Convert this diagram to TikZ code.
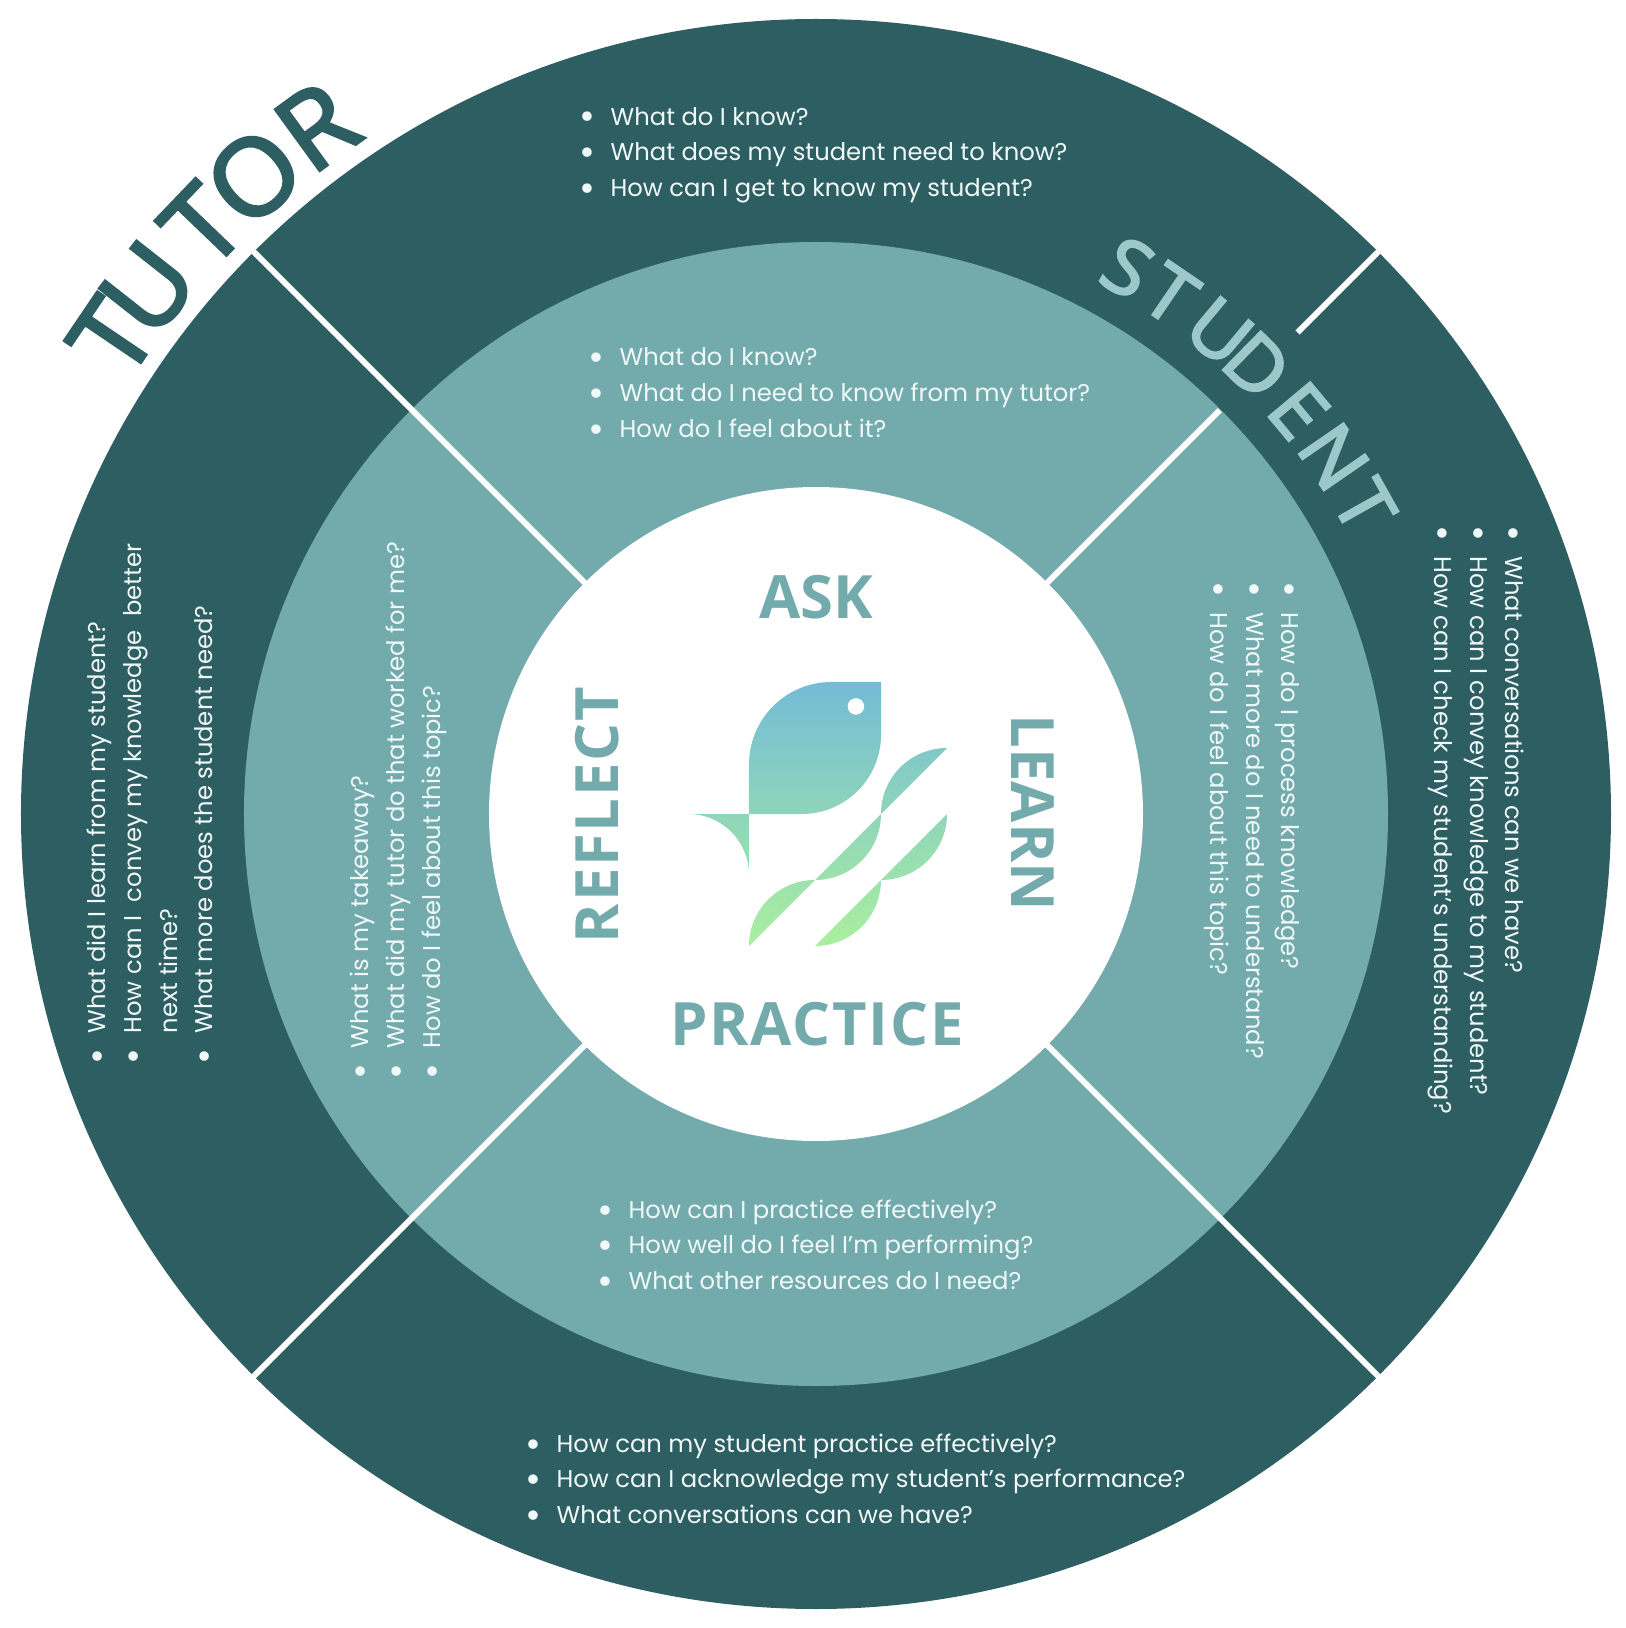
\documentclass[tikz,border=0pt]{standalone}
\usepackage{fontspec}
\setmainfont{Poppins}
\newfontfamily\headfont{Open Sans}
\newfontfamily\rimfont[FakeBold=3,FakeStretch=1.04]{Open Sans}
\usepackage{tikz}
\usetikzlibrary{positioning}
\definecolor{ringdark}{HTML}{2D5E62}
\definecolor{ringmid}{HTML}{73ABAD}
\definecolor{labelpale}{HTML}{9CC8CA}
\definecolor{fishtop}{HTML}{74BBD6}
\definecolor{fishmid}{HTML}{88D2BE}
\definecolor{fishlow}{HTML}{AAEF9E}
\definecolor{listwhite}{HTML}{F0F8F8}
\newcommand{\qline}[1]{\makebox[0.29cm][l]{\hspace*{-0.02cm}\raisebox{-1.4pt}{\fontsize{11}{11}\selectfont\textbullet}}#1}
\tikzset{
  questions/.style={text=listwhite, align=left, anchor=west, inner sep=0pt,
    font=\fontsize{6.9}{10.15}\selectfont},
  divider/.style={white, line width=1.7pt},
  stage/.style={text=ringmid, inner sep=0pt, font=\headfont\bfseries\fontsize{17}{17}\selectfont}
}

\begin{document}
\begin{tikzpicture}
  \useasboundingbox (-8.16,-8.14) rectangle (8.10,8.14);
  \fill[ringdark] (0,0) circle (7.95);
  \fill[ringmid] (0,0) circle (5.72);
  \fill[white] (0,0) circle (3.27);
  % dividers
  \foreach \a in {135,225,315} \draw[divider] (\a:3.27) -- (\a:7.98);
  \draw[divider] (45:3.27) -- (45:5.71);
  \draw[divider] (45:6.81) -- (45:7.98);
  % big words on the rim
  \foreach \c/\a in {T/145.9,U/141.8,T/136.2,O/131.4,R/126.0}
    \node[text=ringdark, inner sep=0pt, rotate=\a-90, font=\rimfont\fontsize{30}{30}\selectfont] (tutor\a) at (\a:8.50) {\c};
  \foreach \c/\a in {S/60.3,T/55.7,U/50.1,D/45.5,E/39.9,N/34.6,T/29.3}
    \node[text=labelpale, inner sep=0pt, rotate=\a-90, font=\rimfont\fontsize{21.5}{21.5}\selectfont] (student\a) at (\a:6.29) {\c};
  % stage words
  \node[stage] (ask) at (0,2.17) {ASK};
  \node[stage] (practice) at (0.01,-2.10) {\addfontfeature{LetterSpace=3}PRACTICE};
  \node[stage, rotate=-90] (learn) at (2.17,0.01) {LEARN};
  \node[stage, rotate=90] (reflect) at (-2.19,-0.01) {\addfontfeature{LetterSpace=3}REFLECT};
  % question lists
  \node[questions] (tutorask) at (-2.35,6.59)
    {\qline{What do I know?}\\\qline{What does my student need to know?}\\\qline{How can I get to know my student?}};
  \node[questions] (studentask) at (-2.26,4.19)
    {\qline{What do I know?}\\\qline{What do I need to know from my tutor?}\\\qline{How do I feel about it?}};
  \node[questions] (studentpractice) at (-2.17,-4.33)
    {\qline{How can I practice effectively?}\\\qline{How well do I feel I'm performing?}\\\qline{What other resources do I need?}};
  \node[questions] (tutorpractice) at (-2.89,-6.67)
    {\qline{How can my student practice effectively?}\\\qline{How can I acknowledge my student's performance?}\\\qline{What conversations can we have?}};
  \node[questions, rotate=-90] (tutorlearn) at (6.60,2.87)
    {\qline{What conversations can we have?}\\\qline{How can I convey knowledge to my student?}\\\qline{How can I check my student's understanding?}};
  \node[questions, rotate=-90] (studentlearn) at (4.36,2.31)
    {\qline{How do I process knowledge?}\\\qline{What more do I need to understand?}\\\qline{How do I feel about this topic?}};
  \node[questions, rotate=90] (tutorreflect) at (-6.635,-2.49)
    {\qline{What did I learn from my student?}\\\qline{How can I\hspace{0.07cm} convey my knowledge\hspace{0.07cm} better}\\\hspace*{0.29cm}next time?\\\qline{What more does the student need?}};
  \node[questions, rotate=90] (studentreflect) at (-4.175,-2.64)
    {\qline{What is my takeaway?}\\\qline{What did my tutor do that worked for me?}\\\qline{How do I feel about this topic?}};
  % fish
  \begin{scope}[shift={(0.65,0)},scale=0.66]
    \begin{scope}
      \clip (0,2) -- (-0.75,2) arc[start angle=90,end angle=180,radius=1.25] -- (-2,0) -- (-1.2,0) arc[start angle=270,end angle=360,radius=1.2] -- cycle
        (-2.92,0) -- (-2,0) -- (-2,-0.92) arc[start angle=0,end angle=90,radius=0.92] -- cycle
        (1,1) arc[start angle=90,end angle=180,radius=1] -- cycle
        (0,0) arc[start angle=0,end angle=-90,radius=1] -- cycle
        (-1,-1) arc[start angle=90,end angle=180,radius=1] -- cycle
        (1,0) arc[start angle=0,end angle=-90,radius=1] -- cycle
        (0,-1) arc[start angle=0,end angle=-90,radius=1] -- cycle;
      \shade[top color=fishtop, middle color=fishmid, bottom color=fishlow] (-3.1,2) rectangle (1.1,-2);
    \end{scope}
    \fill[white] (-0.38,1.63) circle (0.125);
  \end{scope}
\end{tikzpicture}
\end{document}
